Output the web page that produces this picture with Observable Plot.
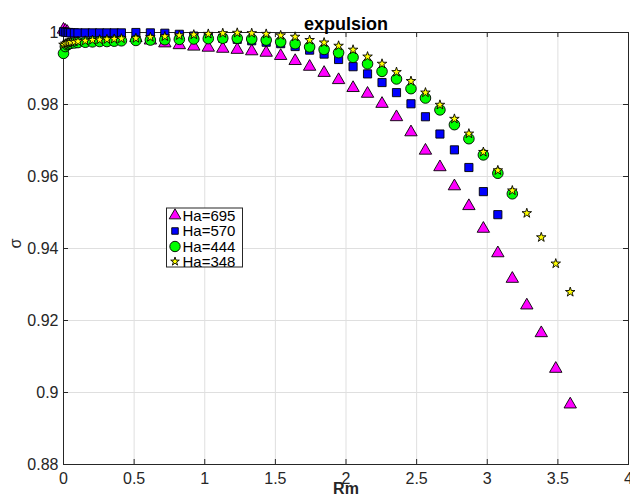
<!DOCTYPE html>
<html>
<head>
<meta charset="utf-8">
<script src="https://cdn.jsdelivr.net/npm/d3@7"></script>
<script src="https://cdn.jsdelivr.net/npm/@observablehq/plot@0.6"></script>
<style>
  html, body { margin: 0; padding: 0; background: #fff; }
  #chart { width: 630px; height: 499px; }
</style>
</head>
<body>
<div id="chart"></div>
<script>
// ---- data ----
const rm = [
  0, 0.013, 0.026, 0.038, 0.051, 0.077, 0.1025, 0.154, 0.205, 0.256, 0.3075, 0.359, 0.41,
  0.5125, 0.615, 0.7175, 0.82, 0.9225, 1.025, 1.1275, 1.23, 1.3325, 1.435,
  1.5375, 1.64, 1.7425, 1.845, 1.9475, 2.05, 2.1525, 2.255, 2.3575, 2.46,
  2.5625, 2.665, 2.7675, 2.87, 2.9725, 3.075, 3.1775, 3.28, 3.3825, 3.485, 3.5875
];
// null = point not visible in the reference (hidden under other markers)
const ha695 = [
  1.0008, 1.0005, 1.0002, null, null, null, null, null, null, null, null, null, null,
  0.9985, 0.9978, 0.9970, 0.9965, 0.9961, 0.9958, 0.9955, 0.9952, 0.9948, 0.9944,
  0.9935, 0.9921, 0.9905, 0.9888, 0.9868, 0.9846, 0.9830, 0.9802, 0.9765, 0.9723,
  0.9672, 0.9626, 0.9573, 0.9518, 0.9455, 0.9387, 0.9316, 0.9242, 0.9165, 0.9066, 0.8967
];
const ha570 = [
  1.0002, 1.0001, 1.0000, 1.0000, 0.9999, 0.9999, 0.9999, 0.9999, 0.9999, 0.9999, 0.9999, 0.9999, 0.9999,
  1.0000, 0.9999, 0.9998, 0.9995, 0.9990, 0.9987, 0.9984, 0.9981, 0.9977, 0.9973,
  0.9969, 0.9961, 0.9951, 0.9940, 0.9925, 0.9905, 0.9885, 0.9861, 0.9833, 0.9802,
  0.9766, 0.9718, 0.9674, 0.9625, 0.9558, 0.9494
];
const ha444 = [
  0.9942, 0.9961, 0.9966, 0.9968, 0.9970, 0.9971, 0.9972, 0.9973, 0.9974, 0.9975, 0.9975, 0.9976, 0.9977,
  0.9978, 0.9979, 0.9980, 0.9981, 0.9982, 0.9983, 0.9984, 0.9984, 0.9982, 0.9979,
  0.9974, 0.9969, 0.9960, 0.9953, 0.9944, 0.9931, 0.9913, 0.9892, 0.9871, 0.9844,
  0.9818, 0.9785, 0.9744, 0.9705, 0.9660, 0.9609, 0.9552
];
const ha348 = [
  0.9966, 0.9969, 0.9971, 0.9972, 0.9973, 0.9974, 0.9975, 0.9977, 0.9979, 0.9980, 0.9981, 0.9982, 0.9983,
  0.9984, 0.9987, 0.9989, 0.9992, 0.9994, 0.9996, 0.9998, 0.9999, 0.9998, 0.9996,
  0.9992, 0.9988, 0.9979, 0.9972, 0.9963, 0.9952, 0.9933, 0.9913, 0.9890, 0.9865,
  0.9833, 0.9799, 0.9760, 0.9719, 0.9668, 0.9617, 0.9561, 0.9498, 0.9431, 0.9358, 0.9279
];
const seriesNames = ["Ha=695", "Ha=570", "Ha=444", "Ha=348"];
const xTicks = [0, 0.5, 1, 1.5, 2, 2.5, 3, 3.5, 4];
const yTicks = [0.88, 0.9, 0.92, 0.94, 0.96, 0.98, 1];
const titleText = "expulsion";
const xLabel = "Rm";
const yLabel = "σ";

// ---- styles ----
const W = 630, H = 499, mL = 63, mR = 2, mT = 32, mB = 35;
const plotW = W - mL - mR, plotH = H - mT - mB;
const font = "'Liberation Sans', Arial, Helvetica, sans-serif";
const ink = "#262626";
const styles = [
  {symbol: "triangle", fill: "#ff00ff", r: 4.6, lr: 4.3},
  {symbol: "square",   fill: "#0000ff", r: 4.6, lr: 3.7},
  {symbol: "circle",   fill: "#00ff00", r: 5.3, lr: 5.2},
  {symbol: "star",     fill: "#ffff00", r: 3.0, lr: 2.7}
];
const seriesValues = [ha695, ha570, ha444, ha348];

function rows(values, name) {
  return values.map((v, i) => ({rm: rm[i], sigma: v, series: name})).filter(d => d.sigma != null);
}
const fmt = d => String(+d.toFixed(3));

const dotMarks = seriesValues.map((vals, k) =>
  Plot.dot(rows(vals, seriesNames[k]), {
    x: "rm", y: "sigma", symbol: styles[k].symbol, r: styles[k].r,
    fill: styles[k].fill, stroke: "#000", strokeWidth: 0.9
  })
);

const plot = Plot.plot({
  width: W, height: H,
  marginLeft: mL, marginRight: mR, marginTop: mT, marginBottom: mB,
  style: {fontFamily: font, background: "#fff", color: ink, overflow: "visible"},
  x: {domain: [0, 4]},
  y: {domain: [0.88, 1]},
  marks: [
    Plot.gridX({ticks: xTicks, stroke: "#dfdfdf", strokeOpacity: 1, strokeWidth: 1}),
    Plot.gridY({ticks: yTicks, stroke: "#dfdfdf", strokeOpacity: 1, strokeWidth: 1}),
    Plot.tickX(xTicks, {x: d => d, insetTop: plotH - 5, stroke: ink}),
    Plot.tickX(xTicks, {x: d => d, insetBottom: plotH - 5, stroke: ink}),
    Plot.tickY(yTicks, {y: d => d, insetRight: plotW - 5, stroke: ink}),
    Plot.tickY(yTicks, {y: d => d, insetLeft: plotW - 5, stroke: ink}),
    Plot.frame({stroke: ink, strokeWidth: 1}),
    Plot.axisX({ticks: xTicks, tickSize: 0, tickPadding: 8, fontSize: 16, tickFormat: fmt, label: null, fill: ink}),
    Plot.axisY({ticks: yTicks, tickSize: 0, tickPadding: 5, fontSize: 16, tickFormat: fmt, label: null, fill: ink}),
    ...dotMarks,
    Plot.text([titleText], {text: d => d, frameAnchor: "top", dy: -15, fontSize: 18, fontWeight: "bold", fill: "#000"}),
    Plot.text([xLabel], {text: d => d, frameAnchor: "bottom", dy: 29, fontSize: 16, fontWeight: "bold", fill: ink}),
    Plot.text([yLabel], {text: d => d, frameAnchor: "left", dx: -48, rotate: -90, fontSize: 16, fill: ink})
  ]
});

// ---- legend (boxed, as in the reference) ----
const svg = d3.select(plot);
const lg = svg.append("g").attr("font-family", font).attr("text-anchor", "start");
const box = {x: 166.5, y: 208, w: 76, h: 59};
lg.append("rect").attr("x", box.x).attr("y", box.y).attr("width", box.w).attr("height", box.h)
  .attr("fill", "#fff").attr("stroke", ink).attr("stroke-width", 1);
const symMap = {triangle: d3.symbolTriangle, square: d3.symbolSquare, circle: d3.symbolCircle, star: d3.symbolStar};
const rowY = [215.5, 231, 246.5, 261.5];
seriesNames.forEach((name, k) => {
  const s = styles[k];
  lg.append("path")
    .attr("d", d3.symbol(symMap[s.symbol], Math.PI * s.lr * s.lr)())
    .attr("transform", `translate(175,${rowY[k]})`)
    .attr("fill", s.fill).attr("stroke", "#000").attr("stroke-width", 0.9);
  lg.append("text").attr("x", 182.5).attr("y", rowY[k]).attr("dy", "0.35em")
    .attr("text-anchor", "start")
    .attr("font-size", 15).attr("fill", "#000").text(name);
});

document.getElementById("chart").appendChild(plot);
</script>
</body>
</html>
